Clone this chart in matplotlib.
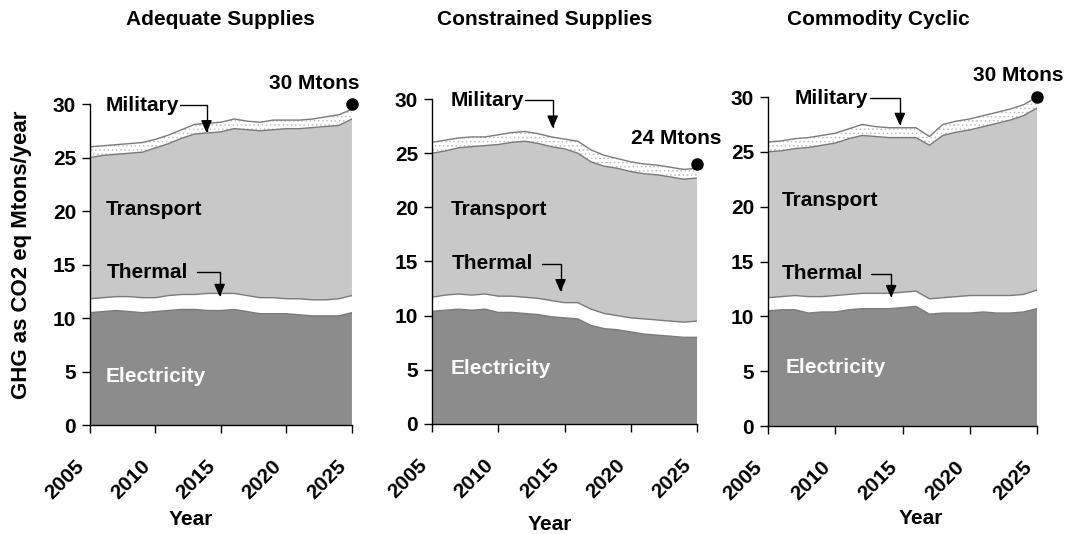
import numpy as np
import matplotlib
matplotlib.use("Agg")
import matplotlib.pyplot as plt
from matplotlib.transforms import ScaledTranslation

plt.rcParams["font.family"] = ["Liberation Sans", "DejaVu Sans"]
plt.rcParams["font.weight"] = "bold"
plt.rcParams["hatch.linewidth"] = 0.6

years = list(range(2005, 2026))
scenarios = ["Adequate Supplies", "Constrained Supplies", "Commodity Cyclic"]
sectors = ["Electricity", "Thermal", "Transport", "Military"]

# Mtons/year CO2 eq by sector, one list per scenario
electricity_adequate = [10.5, 10.6, 10.7, 10.6, 10.5, 10.6, 10.7, 10.8, 10.8, 10.7, 10.7,
                        10.8, 10.6, 10.4, 10.4, 10.4, 10.3, 10.2, 10.2, 10.2, 10.5]
thermal_adequate = [1.3, 1.3, 1.3, 1.4, 1.4, 1.3, 1.4, 1.4, 1.4, 1.6, 1.6,
                    1.5, 1.5, 1.5, 1.5, 1.4, 1.5, 1.5, 1.5, 1.6, 1.6]
transport_adequate = [13.2, 13.3, 13.3, 13.4, 13.6, 14.0, 14.2, 14.6, 15.0, 15.0, 15.1,
                      15.4, 15.5, 15.6, 15.7, 15.9, 15.9, 16.1, 16.2, 16.2, 16.5]
military_adequate = [1.0, 0.9, 0.9, 0.9, 0.9, 0.8, 0.8, 0.8, 0.9, 0.9, 0.9,
                     0.9, 0.8, 0.8, 0.9, 0.8, 0.8, 0.8, 0.9, 1.0, 0.9]

electricity_constrained = [10.4, 10.5, 10.6, 10.5, 10.6, 10.3, 10.3, 10.2, 10.1, 9.9, 9.8,
                           9.7, 9.1, 8.8, 8.7, 8.5, 8.3, 8.2, 8.1, 8.0, 8.0]
thermal_constrained = [1.3, 1.4, 1.4, 1.4, 1.4, 1.5, 1.5, 1.5, 1.5, 1.5, 1.4,
                       1.5, 1.5, 1.4, 1.3, 1.3, 1.4, 1.4, 1.4, 1.4, 1.5]
transport_constrained = [13.3, 13.3, 13.5, 13.7, 13.7, 14.0, 14.2, 14.4, 14.3, 14.2, 14.2,
                         13.8, 13.6, 13.6, 13.6, 13.5, 13.4, 13.4, 13.3, 13.2, 13.2]
military_constrained = [1.0, 1.0, 0.9, 0.9, 0.8, 0.9, 0.9, 0.9, 0.9, 0.9, 0.9,
                        1.1, 1.1, 1.0, 0.9, 0.9, 0.9, 0.9, 0.9, 0.9, 0.9]

electricity_cyclic = [10.5, 10.6, 10.6, 10.3, 10.4, 10.4, 10.6, 10.7, 10.7, 10.7, 10.8,
                      10.9, 10.2, 10.3, 10.3, 10.3, 10.4, 10.3, 10.3, 10.4, 10.7]
thermal_cyclic = [1.2, 1.2, 1.3, 1.5, 1.4, 1.5, 1.4, 1.4, 1.4, 1.4, 1.4,
                  1.4, 1.4, 1.4, 1.5, 1.6, 1.5, 1.6, 1.6, 1.6, 1.7]
transport_cyclic = [13.3, 13.3, 13.4, 13.6, 13.8, 13.9, 14.2, 14.4, 14.3, 14.2, 14.1,
                    14.0, 14.0, 14.8, 15.0, 15.1, 15.4, 15.7, 16.0, 16.3, 16.6]
military_cyclic = [0.9, 0.9, 0.9, 0.9, 0.9, 0.9, 0.9, 1.0, 0.9, 0.9, 0.9,
                   0.9, 0.8, 1.0, 1.0, 1.0, 1.0, 1.0, 1.0, 1.0, 1.0]

end_totals = [30, 24, 30]
x_ticks = [2005, 2010, 2015, 2020, 2025]
y_ticks = [0, 5, 10, 15, 20, 25, 30]

series = [
    [electricity_adequate, thermal_adequate, transport_adequate, military_adequate],
    [electricity_constrained, thermal_constrained, transport_constrained, military_constrained],
    [electricity_cyclic, thermal_cyclic, transport_cyclic, military_cyclic],
]

fills = ["#8c8c8c", "#ffffff", "#c8c8c8", "#ffffff"]
edge = "#7a7a7a"

# axes rectangles in figure fractions
rects = [
    [0.0840, 0.2041, 0.2446, 0.6011],
    [0.4034, 0.2060, 0.2474, 0.6086],
    [0.7171, 0.2022, 0.2512, 0.6161],
]
title_x = [0.2054, 0.5089, 0.8198]
year_pos = [(0.1783, 0.0270), (0.5135, 0.0180), (0.8600, 0.0281)]

# text placements per panel: (x, y) in data units
label_pos = [
    {"Military": (2006.2, 29.9), "Transport": (2006.2, 20.1),
     "Thermal": (2006.3, 14.3), "Electricity": (2006.2, 4.5)},
    {"Military": (2006.4, 29.9), "Transport": (2006.4, 19.8),
     "Thermal": (2006.5, 14.8), "Electricity": (2006.4, 5.1)},
    {"Military": (2007.0, 29.9), "Transport": (2006.0, 20.6),
     "Thermal": (2006.0, 13.9), "Electricity": (2006.3, 5.3)},
]
# arrow tips for the leader lines: (x, y) in data units
military_tip = [(2013.9, 27.3), (2014.1, 27.3), (2014.8, 27.4)]
thermal_tip = [(2014.9, 12.0), (2014.7, 12.2), (2014.15, 11.7)]
leader_gap = {"Military": 1, "Thermal": 6}
total_label_pos = [(2022.1, 31.9), (2023.4, 26.4), (2023.6, 32.0)]

fig = plt.figure(figsize=(10.71, 5.34), dpi=100)

FS = 15
tick_shift = ScaledTranslation(-0.15, -0.15, fig.dpi_scale_trans)

for i, (rect, data) in enumerate(zip(rects, series)):
    ax = fig.add_axes(rect)
    polys = ax.stackplot(years, *data, colors=fills, linewidth=0)
    mil = polys[3]
    mil.set_hatch("....")
    mil.set_edgecolor("#c0c0c0")
    mil.set_linewidth(0)

    tops = np.cumsum(np.array(data), axis=0)
    for level in tops:
        ax.plot(years, level, color=edge, lw=1.0, zorder=3)

    ax.set_xlim(2005, 2025)
    ax.set_ylim(0, 30)
    ax.set_xticks(x_ticks)
    ax.set_yticks(y_ticks)
    ax.set_xticklabels([str(t) for t in x_ticks], rotation=45, ha="right",
                       va="top", rotation_mode="anchor", fontsize=FS, fontweight="bold")
    ax.set_yticklabels([str(t) for t in y_ticks], fontsize=FS, fontweight="bold")
    ax.tick_params(axis="x", direction="out", length=6, width=1, pad=6)
    ax.tick_params(axis="y", direction="out", length=6, width=1, pad=4)
    for lab in ax.get_xticklabels():
        lab.set_transform(lab.get_transform() + tick_shift)
    for s in ("top", "right"):
        ax.spines[s].set_visible(False)
    for s in ("left", "bottom"):
        ax.spines[s].set_linewidth(1)
        ax.spines[s].set_color("black")
        ax.spines[s].set_zorder(4)

    lp = label_pos[i]
    ax.text(lp["Transport"][0], lp["Transport"][1], "Transport", fontsize=FS,
            fontweight="bold", ha="left", va="center", color="black", zorder=5)
    ax.text(lp["Electricity"][0], lp["Electricity"][1], "Electricity", fontsize=FS,
            fontweight="bold", ha="left", va="center", color="white", zorder=5)

    for name, tip in (("Military", military_tip[i]), ("Thermal", thermal_tip[i])):
        ax.annotate(name, xy=tip, xytext=lp[name], fontsize=FS, fontweight="bold",
                    ha="left", va="center", color="black", zorder=5,
                    arrowprops=dict(arrowstyle="-|>,head_length=0.5,head_width=0.22",
                                    connectionstyle="angle,angleA=0,angleB=90,rad=0",
                                    relpos=(1.0, 0.5), patchA=None,
                                    color="black", lw=1,
                                    shrinkA=leader_gap[name], shrinkB=0))

    ax.plot([years[-1]], [end_totals[i]], "o", color="black", markersize=8,
            clip_on=False, zorder=6)
    tx, ty = total_label_pos[i]
    ax.text(tx, ty, f"{end_totals[i]} Mtons", fontsize=FS, fontweight="bold",
            ha="center", va="center", clip_on=False, zorder=6)

    fig.text(title_x[i], 0.964, scenarios[i], fontsize=FS, fontweight="bold",
             ha="center", va="center")
    fig.text(year_pos[i][0], year_pos[i][1], "Year", fontsize=FS, fontweight="bold",
             ha="center", va="center")

fig.text(0.0205, 0.5225, "GHG as CO2 eq Mtons/year", rotation=90, fontsize=16,
         fontweight="bold", ha="center", va="center")

fig.savefig("out.png", dpi=100, facecolor="white")
